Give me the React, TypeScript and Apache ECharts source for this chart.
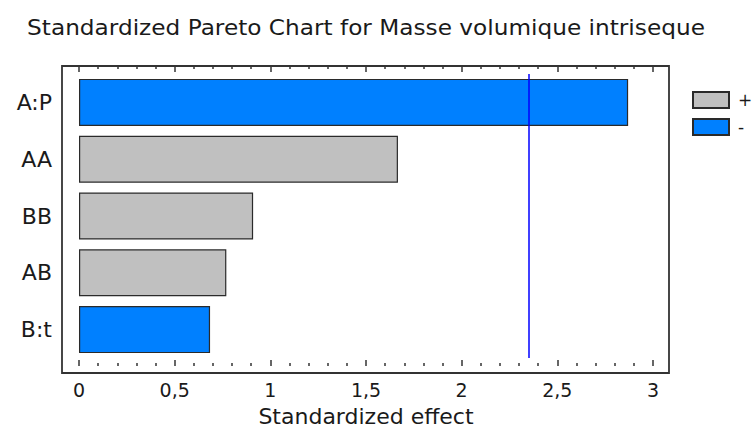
import React, { useEffect, useRef } from "react";
import * as echarts from "echarts";

const categories = ["A:P", "AA", "BB", "AB", "B:t"];
const effects = [2.87, 1.667, 0.91, 0.77, 0.685];
const signs = ["-", "+", "+", "+", "-"];
const criticalValue = 2.353;
const legendNames = ["+", "-"];
const titleText = "Standardized Pareto Chart for Masse volumique intriseque";
const axisName = "Standardized effect";

const FONT = "DejaVu Sans";
const TEXT = "#1a1a1a";

export default function App() {
  const ref = useRef<HTMLDivElement>(null);
  useEffect(() => {
    if (!ref.current) return;
    const chart = echarts.init(ref.current, undefined, { renderer: "svg" });
    const plusData = effects.map((v, i) => (signs[i] === "+" ? v : null));
    const minusData = effects.map((v, i) => (signs[i] === "-" ? v : null));
    const fmt = (v: number) => String(v).replace(".", ",");
    const xCommon = {
      type: "value",
      min: 0,
      max: 3,
      interval: 0.5,
      offset: 8,
      axisLine: { show: false },
      axisTick: { show: true, inside: true, length: 6, lineStyle: { color: "#333", width: 1.5 } },
      minorTick: { show: true, splitNumber: 5, length: 3, lineStyle: { color: "#333", width: 1.5 } },
      splitLine: { show: false },
      minorSplitLine: { show: false },
    };
    chart.setOption({
      animation: false,
      backgroundColor: "#fff",
      textStyle: { fontFamily: FONT, color: TEXT },
      grid: { left: 79, right: 100, top: 74, bottom: 67 },
      legend: {
        data: legendNames,
        orient: "vertical",
        left: 687,
        top: 86,
        icon: "rect",
        itemWidth: 36,
        itemHeight: 16,
        itemGap: 9,
        textStyle: { fontFamily: FONT, fontSize: 17, color: TEXT, padding: [0, 0, 0, 4] },
      },
      graphic: [
        {
          type: "rect",
          shape: { x: 62, y: 66, width: 607, height: 307 },
          style: { fill: "none", stroke: "#333", lineWidth: 1.8 },
          z: 10,
        },
        {
          type: "text",
          x: 366,
          y: 27,
          scaleX: 1.055,
          style: {
            text: titleText,
            fontFamily: FONT,
            fontSize: 22,
            fill: TEXT,
            align: "center",
            verticalAlign: "middle",
          },
        },
      ],
      xAxis: [
        {
          ...xCommon,
          position: "bottom",
          name: axisName,
          nameLocation: "middle",
          nameGap: 39,
          nameTextStyle: { fontFamily: FONT, fontSize: 22, color: TEXT },
          axisLabel: { margin: 14, fontSize: 19, fontFamily: FONT, color: TEXT, formatter: fmt },
        },
        {
          ...xCommon,
          position: "top",
          axisLabel: { show: false },
        },
      ],
      yAxis: {
        type: "category",
        data: categories,
        inverse: true,
        axisLine: { show: false },
        axisTick: { show: false },
        axisLabel: { margin: 27, fontSize: 22, fontFamily: FONT, color: TEXT },
      },
      series: [
        {
          name: legendNames[0],
          type: "bar",
          xAxisIndex: 0,
          data: plusData,
          barWidth: 47,
          barGap: "-100%",
          itemStyle: { color: "#c0c0c0", borderColor: "#2a2a2a", borderWidth: 1.2 },
        },
        {
          name: legendNames[1],
          type: "bar",
          xAxisIndex: 0,
          data: minusData,
          barWidth: 47,
          barGap: "-100%",
          itemStyle: { color: "#0080ff", borderColor: "#2a2a2a", borderWidth: 1.2 },
          markLine: {
            silent: true,
            symbol: "none",
            label: { show: false },
            lineStyle: { color: "#0000ff", width: 1.5, type: "solid" },
            data: [{ xAxis: criticalValue }],
          },
        },
      ],
    });
    return () => chart.dispose();
  }, []);
  return (
    <div
      ref={ref}
      style={{ position: "absolute", left: 0, top: 0, width: 753, height: 432 }}
    />
  );
}
